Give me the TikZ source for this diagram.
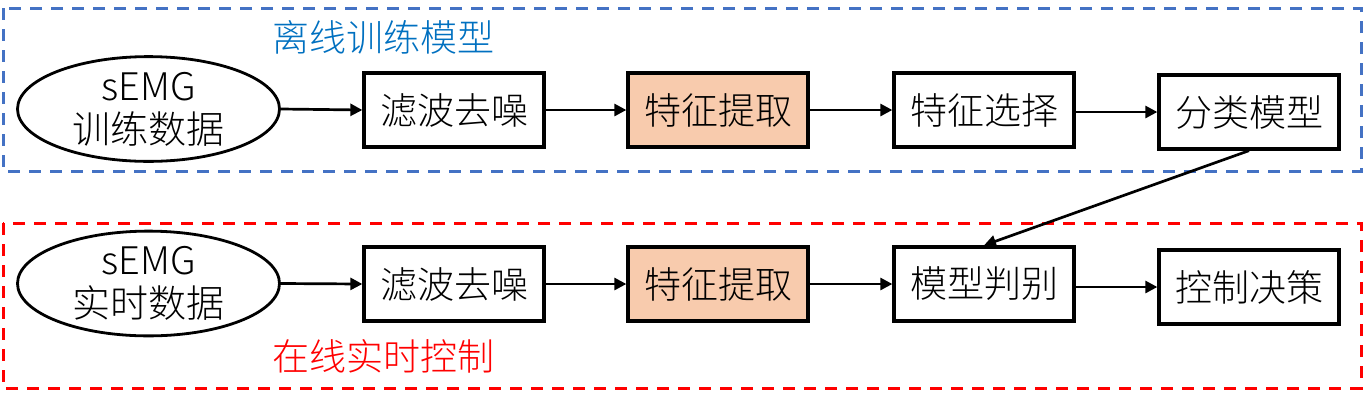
\documentclass[tikz,border=0pt]{standalone}
\usepackage{fontspec}
\setmainfont{Noto Sans CJK SC}[UprightFont={* Light}]
\usetikzlibrary{shapes.geometric,arrows.meta}
\definecolor{dashblue}{RGB}{68,114,196}
\definecolor{titleblue}{RGB}{0,112,192}
\definecolor{peach}{RGB}{248,203,173}
\tikzset{
  grp/.style={line width=3pt, dash pattern=on 12pt off 9pt},
  procbox/.style={draw, line width=3.3pt, minimum width=180pt, minimum height=74pt, inner sep=0pt, font=\fontsize{37}{42}\selectfont},
  hlbox/.style={procbox, fill=peach},
  src/.style={draw, ellipse, line width=2.8pt, minimum width=262pt, minimum height=97pt, inner sep=0pt, align=center, font=\fontsize{38}{43}\selectfont},
  flow/.style={-{Triangle[length=12pt,width=12pt]}, line width=2.7pt},
  grptitle/.style={font=\fontsize{37}{42}\selectfont}
}
\begin{document}
\begin{tikzpicture}[x=1pt,y=-1pt]
\useasboundingbox (0,0) rectangle (1364,400);
\draw[grp, dashblue] (3,8) rectangle (1361,171);
\draw[grp, red] (3,223) rectangle (1361,388);
\node[grptitle, text=titleblue] (t1) at (383,37) {离线训练模型};
\node[grptitle, text=red] (t2) at (383,356) {在线实时控制};
% top row
\node[src] (e1) at (148.5,109) {sEMG\\训练数据};
\node[procbox] (b1) at (454,110) {滤波去噪};
\node[hlbox] (b2) at (718,110) {特征提取};
\node[procbox] (b3) at (984,110) {特征选择};
\node[procbox] (b4) at (1249,112) {分类模型};
% bottom row
\node[src] (e2) at (148.5,283.5) {sEMG\\实时数据};
\node[procbox] (c1) at (454,284) {滤波去噪};
\node[hlbox] (c2) at (718,284) {特征提取};
\node[procbox] (c3) at (984,284) {模型判别};
\node[procbox] (c4) at (1249,287) {控制决策};
% connectors
\draw[flow] (e1.east) -- (b1.west);
\draw[flow] (b1.east) -- (b2.west);
\draw[flow] (b2.east) -- (b3.west);
\draw[flow] (b3.east |- b4.west) -- (b4.west);
\draw[flow] (e2.east) -- (c1.west);
\draw[flow] (c1.east) -- (c2.west);
\draw[flow] (c2.east) -- (c3.west);
\draw[flow] (c3.east |- c4.west) -- (c4.west);
\draw[flow] (b4.south) -- (c3.north);
\end{tikzpicture}
\end{document}
